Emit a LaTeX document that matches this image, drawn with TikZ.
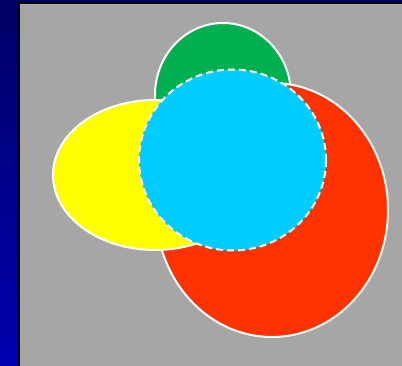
\documentclass[tikz,border=0pt]{standalone}
\begin{document}
\begin{tikzpicture}[x=1pt,y=-1pt,
  blob/.style={draw=white,line width=2pt},
  dashblob/.style={draw=white,line width=2pt,dash pattern=on 7pt off 4pt}]
\definecolor{bgtop}{HTML}{000066}
\definecolor{bgbot}{HTML}{0000B0}
\definecolor{panel}{HTML}{A6A6A6}
\definecolor{cgreen}{HTML}{00B050}
\definecolor{cyellow}{HTML}{FFFF00}
\definecolor{cred}{HTML}{FF3300}
\definecolor{ccyan}{HTML}{00CCFF}
\useasboundingbox (0,0) rectangle (402,366);
\shade[top color=bgtop,bottom color=bgbot] (0,0) rectangle (402,366);
\fill[black] (17,2) rectangle (402,366);
\fill[panel] (20,4) rectangle (402,366);
\path[blob,fill=cgreen] (223,95) ellipse [x radius=68,y radius=72];
\path[blob,fill=cred] (272,210) ellipse [x radius=116,y radius=127];
\path[blob,fill=cyellow] (155,175) ellipse [x radius=102,y radius=75];
\path[dashblob,fill=ccyan] (232.5,160) ellipse [x radius=93.5,y radius=90.5];
\end{tikzpicture}
\end{document}
